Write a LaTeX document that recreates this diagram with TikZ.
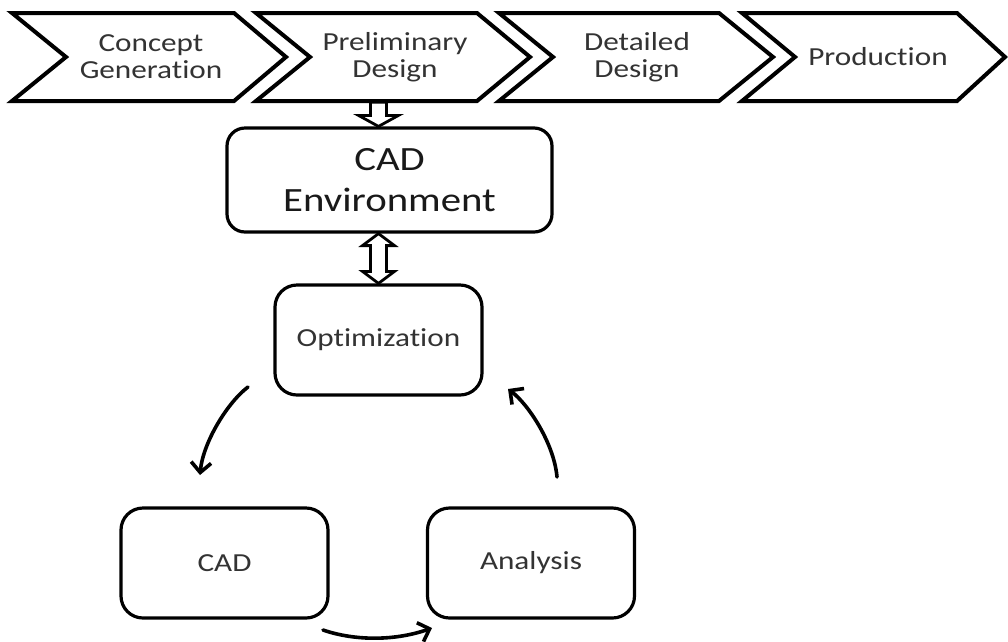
\documentclass[tikz,border=0pt]{standalone}
\usepackage{fontspec}
\setmainfont{Carlito}[FakeStretch=1.2, Ligatures=NoCommon]
\usetikzlibrary{arrows.meta,calc}

% Outline of one process chevron: left x, notch x, corner x, tip x
\newcommand\chevronpath[4]{%
  \draw[stageline] (#1,13) -- (#3,13) -- (#4,57) -- (#3,101) -- (#1,101) -- (#2,57) -- cycle;}

\begin{document}
\begin{tikzpicture}[x=1pt,y=-1pt,
  stageline/.style={line width=4pt, line join=miter, fill=white},
  stage/.style={font=\fontsize{26}{27}\selectfont, text=black!80, align=center,
    inner sep=0pt, minimum height=88pt},
  box/.style={draw, line width=3.2pt, rounded corners=22pt, fill=white,
    minimum width=207pt, minimum height=110pt,
    font=\fontsize{26}{30}\selectfont, text=black!80},
  envbox/.style={draw, line width=3.2pt, rounded corners=18pt, fill=white,
    minimum width=325pt, minimum height=104pt, align=center,
    font=\fontsize{34}{41}\selectfont, text=black!90},
  flow/.style={line width=3.6pt, line cap=round,
    -{Straight Barb[length=10pt,width=20pt,line width=3.6pt]}},
  blockarrow/.style={draw, line width=2.8pt, fill=white, line join=miter}
]
\useasboundingbox (0,0) rectangle (1008,641);

% process stages
\chevronpath{12}{66}{234}{286}
\chevronpath{256}{310}{477}{530}
\chevronpath{499}{553}{719}{773}
\chevronpath{742}{795}{957}{1005}
\node[stage] (c1) at (151,57) {Concept\\Generation};
\node[stage] (c2) at (395,57) {Preliminary\\Design};
\node[stage] (c3) at (637,57) {Detailed\\Design};
\node[stage] (c4) at (878,57) {Production};

% boxes
\node[envbox] (env) at (389.5,180) {CAD\\Environment};
\node[box] (opt) at (378.5,340) {Optimization};
\node[box] (cad) at (224.5,563) {CAD};
\node[box] (ana) at (531,563) {Analysis};

% block arrow from the design stage into the CAD environment
\coordinate (da) at (c2.south -| opt.north);
\coordinate (db) at (env.north -| opt.north);
\draw[blockarrow] ($(da)+(-8,1)$) -- ($(da)+(8,1)$) -- ($(db)+(8,-11)$)
  -- ($(db)+(20,-11)$) -- (db) -- ($(db)+(-20,-11)$) -- ($(db)+(-8,-11)$) -- cycle;

% two-way block arrow between environment and optimization
\coordinate (ua) at (env.south -| opt.north);
\coordinate (ub) at (opt.north);
\draw[blockarrow] (ua) -- ($(ua)+(16,12)$) -- ($(ua)+(8,12)$) -- ($(ub)+(8,-12)$)
  -- ($(ub)+(16,-12)$) -- (ub) -- ($(ub)+(-16,-12)$) -- ($(ub)+(-8,-12)$)
  -- ($(ua)+(-8,12)$) -- ($(ua)+(-16,12)$) -- cycle;

% loop arrows
\coordinate (l1) at (248,387);
\coordinate (l2) at (200,475);
\coordinate (r1) at (557,477);
\coordinate (r2) at (508,389);
\coordinate (b1) at (323,630);
\coordinate (b2) at (432,628);
\draw[flow] (l1) .. controls (228,402) and (203,442) .. (l2);
\draw[flow] (r1) .. controls (554,443) and (528,404) .. (r2);
\draw[flow] (b1) .. controls (355,641) and (395,641) .. (b2);
\end{tikzpicture}
\end{document}
